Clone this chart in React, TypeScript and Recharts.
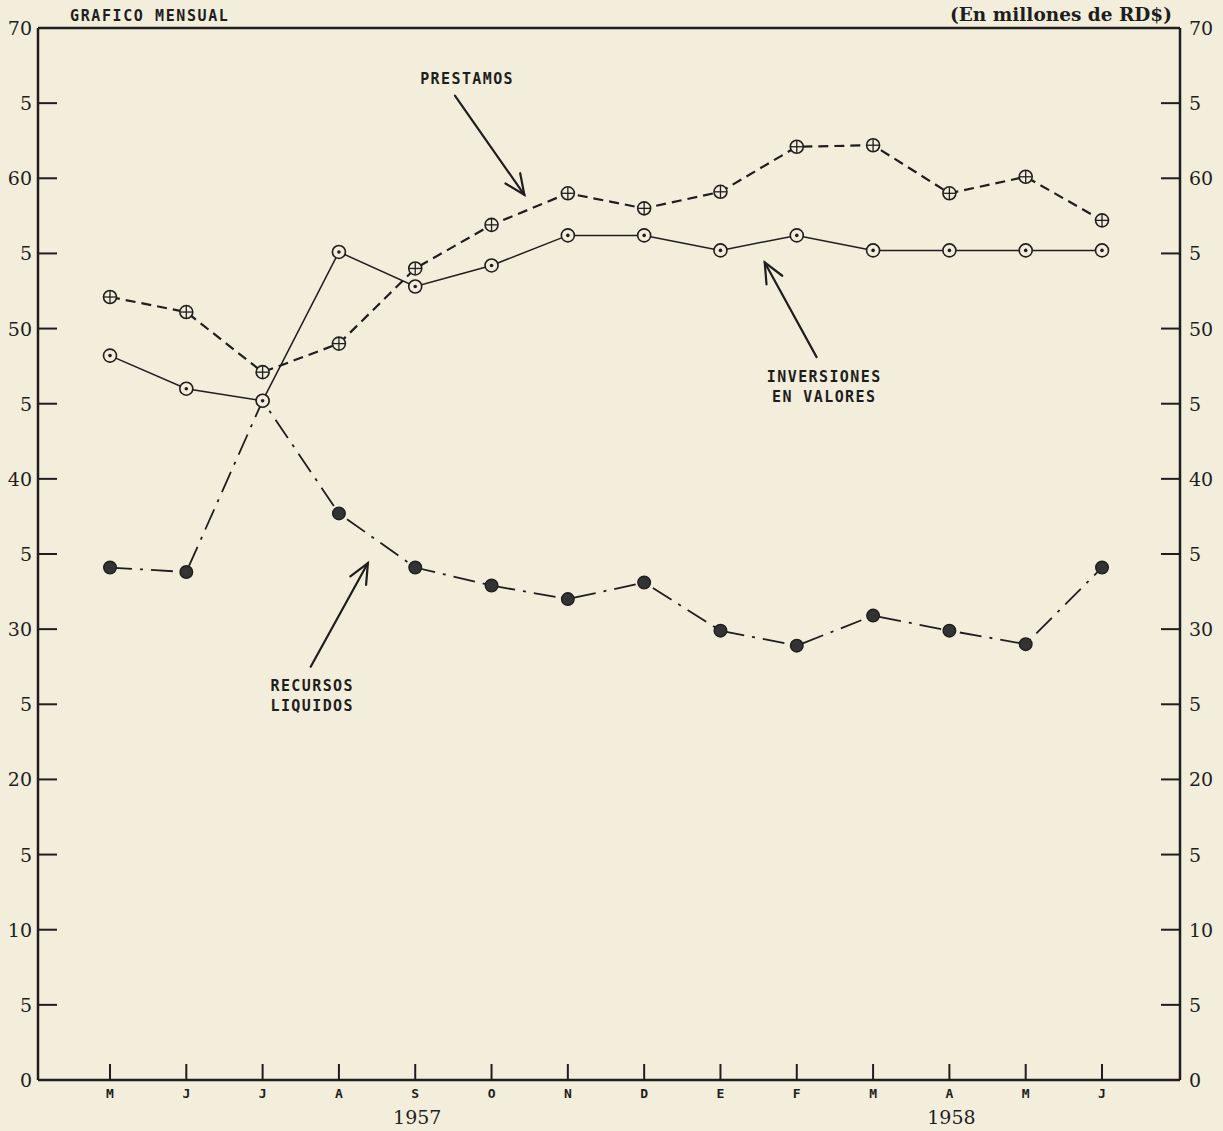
import React from "react";
import {
  LineChart,
  Line,
  XAxis,
  YAxis,
  ReferenceLine,
  ReferenceDot,
} from "recharts";

// months May 1957 – June 1958
const months = ["M", "J", "J", "A", "S", "O", "N", "D", "E", "F", "M", "A", "M", "J"];
const years = [
  { at: 4, label: "1957" },
  { at: 11, label: "1958" },
];

// millones de RD$
const prestamos = [52.1, 51.1, 47.1, 49.0, 54.0, 56.9, 59.0, 58.0, 59.1, 62.1, 62.2, 59.0, 60.1, 57.2];
const inversiones = [48.2, 46.0, 45.2, 55.1, 52.8, 54.2, 56.2, 56.2, 55.2, 56.2, 55.2, 55.2, 55.2, 55.2];
const recursos = [34.1, 33.8, 45.2, 37.7, 34.1, 32.9, 32.0, 33.1, 29.9, 28.9, 30.9, 29.9, 29.0, 34.1];

const yTicks = [0, 5, 10, 15, 20, 25, 30, 35, 40, 45, 50, 55, 60, 65, 70];

// series captions and their arrows, in data units (x = month index, y = value)
const captions = [
  { lines: ["PRESTAMOS"], x: 4.68, y: 66.6 },
  { lines: ["INVERSIONES", "EN VALORES"], x: 9.36, y: 46.8 },
  { lines: ["RECURSOS", "LIQUIDOS"], x: 2.65, y: 26.2 },
];
const arrows = [
  { from: { x: 4.52, y: 65.5 }, to: { x: 5.43, y: 58.9 } },
  { from: { x: 9.26, y: 48.1 }, to: { x: 8.58, y: 54.4 } },
  { from: { x: 2.63, y: 27.5 }, to: { x: 3.38, y: 34.4 } },
];

const data = months.map((m, i) => ({
  i,
  month: m,
  prestamos: prestamos[i],
  inversiones: inversiones[i],
  recursos: recursos[i],
}));

const BG = "#f3eedb";
const INK = "#1e1e1e";
const MONO = "'DejaVu Sans Mono', monospace";
const SERIF = "'DejaVu Serif', serif";

const PlusDot = (p: any) => (
  <g key={`p${p.index}`}>
    <circle cx={p.cx} cy={p.cy} r={6.5} fill={BG} stroke={INK} strokeWidth={1.6} />
    <line x1={p.cx - 6} y1={p.cy} x2={p.cx + 6} y2={p.cy} stroke={INK} strokeWidth={1.3} />
    <line x1={p.cx} y1={p.cy - 6} x2={p.cx} y2={p.cy + 6} stroke={INK} strokeWidth={1.3} />
  </g>
);

const RingDot = (p: any) => (
  <g key={`r${p.index}`}>
    <circle cx={p.cx} cy={p.cy} r={6.5} fill={BG} stroke={INK} strokeWidth={1.6} />
    <circle cx={p.cx} cy={p.cy} r={1.8} fill={INK} />
  </g>
);

const FullDot = (p: any) => (
  <circle key={`f${p.index}`} cx={p.cx} cy={p.cy} r={6.3} fill="#333" stroke={INK} strokeWidth={1.4} />
);

const yLabel = (v: number) => (v % 10 === 0 ? String(v) : "5");

const LeftTick = (p: any) => (
  <g>
    {p.payload.value !== 0 && p.payload.value !== 70 && (
      <line x1={p.x} y1={p.y} x2={p.x + 19} y2={p.y} stroke={INK} strokeWidth={2} />
    )}
    <text x={p.x - 6} y={p.y} textAnchor="end" dominantBaseline="central" fontFamily={SERIF} fontSize={19} fill={INK}>
      {yLabel(p.payload.value)}
    </text>
  </g>
);

const RightTick = (p: any) => (
  <g>
    {p.payload.value !== 0 && p.payload.value !== 70 && (
      <line x1={p.x - 19} y1={p.y} x2={p.x} y2={p.y} stroke={INK} strokeWidth={2} />
    )}
    <text x={p.x + 9} y={p.y} textAnchor="start" dominantBaseline="central" fontFamily={SERIF} fontSize={19} fill={INK}>
      {yLabel(p.payload.value)}
    </text>
  </g>
);

const MonthTick = (p: any) => {
  const idx = p.payload.value;
  const yr = years.find((y) => y.at === idx);
  return (
    <g>
      <line x1={p.x} y1={p.y - 16} x2={p.x} y2={p.y} stroke={INK} strokeWidth={2} />
      <text x={p.x} y={p.y + 18} textAnchor="middle" fontFamily={MONO} fontSize={13} fontWeight="bold" fill={INK}>
        {months[idx]}
      </text>
      {yr && (
        <text x={p.x + 2} y={p.y + 44} textAnchor="middle" fontFamily={SERIF} fontSize={19} fill={INK}>
          {yr.label}
        </text>
      )}
    </g>
  );
};

const ArrowShape = (p: any) => {
  const { x1, y1, x2, y2 } = p;
  const a = Math.atan2(y2 - y1, x2 - x1);
  const h = 22;
  const w = 0.42;
  return (
    <g stroke={INK} strokeWidth={2.2} fill="none" strokeLinecap="round">
      <line x1={x1} y1={y1} x2={x2} y2={y2} />
      <polyline
        points={`${x2 - h * Math.cos(a - w)},${y2 - h * Math.sin(a - w)} ${x2},${y2} ${x2 - h * Math.cos(a + w)},${y2 - h * Math.sin(a + w)}`}
      />
    </g>
  );
};

const captionShape = (lines: string[]) => (p: any) => (
  <text x={p.cx} y={p.cy} textAnchor="middle" fontFamily={MONO} fontSize={15} fontWeight={600} letterSpacing={1.4} fill={INK}>
    {lines.map((l, k) => (
      <tspan key={k} x={p.cx} dy={k === 0 ? 5 : 20}>
        {l}
      </tspan>
    ))}
  </text>
);

export default function App() {
  return (
    <div style={{ position: "absolute", left: 0, top: 0, width: 1223, height: 1131, background: BG, overflow: "hidden" }}>
      <div style={{ position: "absolute", left: 70, top: 7, fontFamily: MONO, fontSize: 15, fontWeight: 600, letterSpacing: 1.6, color: INK }}>
        GRAFICO MENSUAL
      </div>
      <div style={{ position: "absolute", right: 51, top: 4, fontFamily: SERIF, fontSize: 18.5, fontWeight: "bold", color: INK }}>
        (En millones de RD$)
      </div>
      <LineChart width={1223} height={1131} data={data} margin={{ top: 28, right: 0, bottom: 0, left: 0 }}>
        <XAxis
          dataKey="i"
          type="number"
          domain={[-0.9435, 14.022]}
          ticks={months.map((_, i) => i)}
          allowDataOverflow
          height={51}
          tickSize={0}
          tickMargin={0}
          tickLine={false}
          axisLine={{ stroke: INK, strokeWidth: 2.5 }}
          tick={MonthTick}
          interval={0}
        />
        <YAxis
          domain={[0, 70]}
          ticks={yTicks}
          allowDataOverflow
          width={38}
          tickSize={0}
          tickMargin={0}
          tickLine={false}
          axisLine={{ stroke: INK, strokeWidth: 2.5 }}
          tick={LeftTick}
          interval={0}
        />
        <YAxis
          yAxisId="right"
          orientation="right"
          domain={[0, 70]}
          ticks={yTicks}
          allowDataOverflow
          width={43}
          tickSize={0}
          tickMargin={0}
          tickLine={false}
          axisLine={{ stroke: INK, strokeWidth: 2.5 }}
          tick={RightTick}
          interval={0}
        />
        <ReferenceLine y={70} stroke={INK} strokeWidth={2.5} />
        {arrows.map((a, k) => (
          <ReferenceLine key={`a${k}`} segment={[a.from, a.to]} shape={ArrowShape} />
        ))}
        {captions.map((c, k) => (
          <ReferenceDot key={`c${k}`} x={c.x} y={c.y} r={0} shape={captionShape(c.lines)} />
        ))}
        <Line
          dataKey="recursos"
          stroke={INK}
          strokeWidth={1.8}
          strokeDasharray="22 8 3 8"
          dot={FullDot}
          activeDot={false}
          isAnimationActive={false}
        />
        <Line
          dataKey="inversiones"
          stroke={INK}
          strokeWidth={1.5}
          dot={RingDot}
          activeDot={false}
          isAnimationActive={false}
        />
        <Line
          dataKey="prestamos"
          stroke={INK}
          strokeWidth={2.2}
          strokeDasharray="10 6"
          dot={PlusDot}
          activeDot={false}
          isAnimationActive={false}
        />
      </LineChart>
    </div>
  );
}
